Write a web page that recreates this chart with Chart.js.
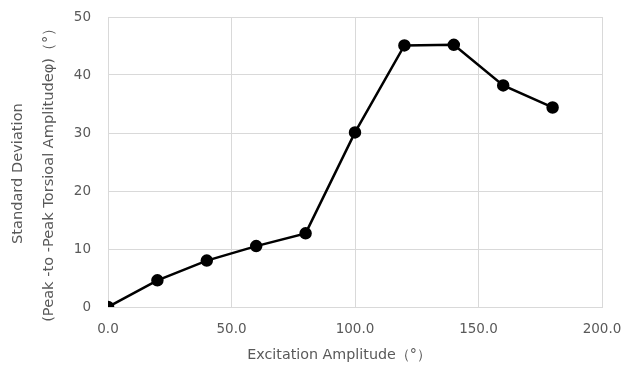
<!DOCTYPE html>
<html><head><meta charset="utf-8">
<script src="https://cdn.jsdelivr.net/npm/chart.js@4"></script>
<style>html,body{margin:0;padding:0;background:#fff}#w{width:627px;height:365px}</style>
</head><body><div id="w"><canvas id="c" width="627" height="365"></canvas></div>
<script>
const amplitudes = [0, 20, 40, 60, 80, 100, 120, 140, 160, 180];
const stdDev = [0, 4.6, 8.0, 10.5, 12.7, 30.1, 45.1, 45.2, 38.2, 34.4];
const xTicks = [0, 50, 100, 150, 200];
const yTicks = [0, 10, 20, 30, 40, 50];
const xTitle = 'Excitation Amplitude（°）';
const yTitle = ['Standard Deviation', '(Peak -to -Peak Torsioal Amplitudeφ)（°）'];

const pad = n => '\u00a0'.repeat(n);
const font = {family: 'DejaVu Sans', size: 13.5};
const tfont = {family: 'DejaVu Sans', size: 14.3};
new Chart(document.getElementById('c'), {
  type: 'scatter',
  data: {datasets: [{
    data: amplitudes.map((a, i) => ({x: a, y: stdDev[i]})),
    showLine: true, borderColor: '#000', backgroundColor: '#000',
    borderWidth: 2.5, pointRadius: 5, pointHoverRadius: 5
  }]},
  options: {
    responsive: false, animation: false,
    layout: {padding: 0},
    plugins: {legend: {display: false}, tooltip: {enabled: false}},
    scales: {
      x: {type: 'linear', min: 0, max: 200,
        afterBuildTicks: s => { s.ticks = xTicks.map(v => ({value: v})); },
        afterFit: s => { s.height = 58; s.paddingRight = 25; },
        ticks: {color: '#595959', font, padding: 14, callback: v => v.toFixed(1), maxRotation: 0},
        grid: {color: '#d9d9d9', drawTicks: false}, border: {color: '#d9d9d9'},
        title: {display: true, text: xTitle + pad(7), color: '#595959', font: tfont, padding: {top: 0, bottom: 1}}},
      y: {min: 0, max: 50,
        afterBuildTicks: s => { s.ticks = yTicks.map(v => ({value: v})); },
        afterFit: s => { s.width = 108; s.paddingTop = 17; },
        ticks: {color: '#595959', font, padding: 17},
        grid: {color: '#d9d9d9', drawTicks: false}, border: {color: '#d9d9d9'},
        title: {display: true, text: [yTitle[0] + pad(5), yTitle[1] + pad(4)], color: '#595959', font: {...tfont, size: 14.6, lineHeight: '31px'}, padding: {top: 3, bottom: 0}}}
    }
  }
});
</script></body></html>
